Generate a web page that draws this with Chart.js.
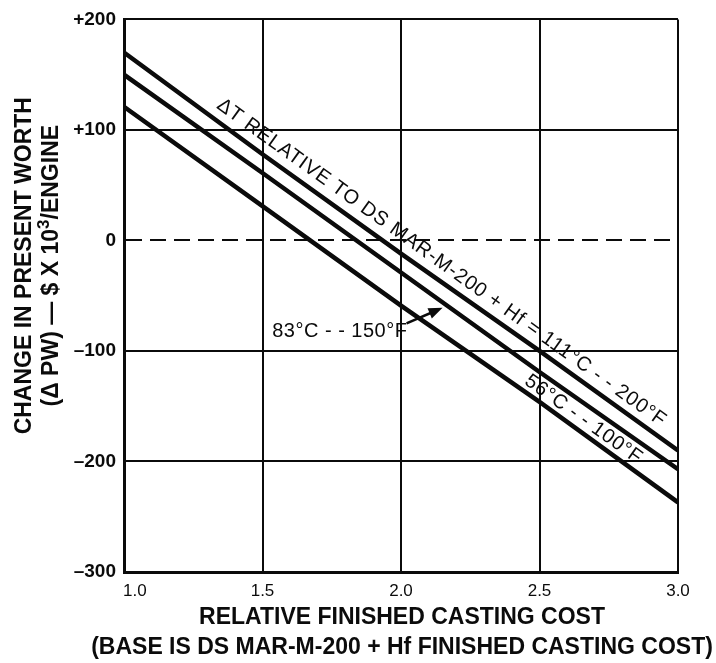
<!DOCTYPE html>
<html>
<head>
<meta charset="utf-8">
<title>Change in present worth vs relative finished casting cost</title>
<script src="https://cdn.jsdelivr.net/npm/chart.js@4/dist/chart.umd.min.js"></script>
<style>
  html, body { margin: 0; padding: 0; background: #fff; }
  canvas { display: block; }
</style>
</head>
<body>
<canvas id="pw" width="716" height="663"></canvas>
<script>
// Relative finished casting cost (x) and change in present worth, $ x 10^3 / engine (y)
const costRatio = [1.0, 1.5, 2.0, 2.5, 3.0];
const pwDelta111C = [170, 78, -12, -100, -190];   // dT = 111 C (200 F)
const pwDelta83C  = [150, 61, -29, -119, -207];   // dT = 83 C (150 F)
const pwDelta56C  = [121, 31, -59, -146, -237];   // dT = 56 C (100 F)

const xTickValues = [1.0, 1.5, 2.0, 2.5, 3.0];
const xTickLabels = ['1.0', '1.5', '2.0', '2.5', '3.0'];
const yTickValues = [-300, -200, -100, 0, 100, 200];
const yTickLabels = ['\u2013300', '\u2013200', '\u2013100', '0', '+100', '+200'];

const yTitleLines = ['CHANGE IN PRESENT WORTH', ['(\u0394 PW) \u2014 $ X 10', '3', '/ENGINE']];
const xTitleLines = ['RELATIVE FINISHED CASTING COST', '(BASE IS DS MAR-M-200 + Hf FINISHED CASTING COST)'];

const labelTop = '\u0394T RELATIVE TO DS MAR-M-200 + Hf = 111\u00B0C - - 200\u00B0F';
const labelMid = '83\u00B0C - - 150\u00B0F';
const labelLow = '56\u00B0C - - 100\u00B0F';

const FAMILY = '"Liberation Sans", Arial, Helvetica, sans-serif';
const INK = '#0b0b0b';

function toPoints(ys) { return costRatio.map((x, i) => ({ x: x, y: ys[i] })); }

function valueAt(series, x) {
  for (let i = 0; i < costRatio.length - 1; i++) {
    if (x <= costRatio[i + 1]) {
      const t = (x - costRatio[i]) / (costRatio[i + 1] - costRatio[i]);
      return series[i] + t * (series[i + 1] - series[i]);
    }
  }
  return series[series.length - 1];
}

// Text laid along a curve, starting at x0 and lifted above it by `lift` px
function textAlong(chart, series, x0, lift, text) {
  const { ctx } = chart;
  const xs = chart.scales.x, ys = chart.scales.y;
  const ax = xs.getPixelForValue(costRatio[0]), ay = ys.getPixelForValue(series[0]);
  const bx = xs.getPixelForValue(costRatio[costRatio.length - 1]), by = ys.getPixelForValue(series[series.length - 1]);
  const ang = Math.atan2(by - ay, bx - ax);
  const px = xs.getPixelForValue(x0), py = ys.getPixelForValue(valueAt(series, x0));
  ctx.save();
  ctx.translate(px, py);
  ctx.rotate(ang);
  ctx.font = '20px ' + FAMILY;
  if ('letterSpacing' in ctx) ctx.letterSpacing = '0.8px';
  ctx.fillStyle = INK;
  ctx.textAlign = 'left';
  ctx.textBaseline = 'alphabetic';
  ctx.fillText(text, 0, -lift);
  ctx.restore();
}

const annotations = {
  id: 'annotations',
  afterDatasetsDraw(chart) {
    const { ctx } = chart;
    const xs = chart.scales.x, ys = chart.scales.y;

    // curve labels
    textAlong(chart, pwDelta111C, 1.31, 10, labelTop);
    textAlong(chart, pwDelta56C, 2.43, 6, labelLow);

    // 83 C label with pointer to its curve
    ctx.save();
    ctx.font = '20px ' + FAMILY;
    if ('letterSpacing' in ctx) ctx.letterSpacing = '0.5px';
    ctx.fillStyle = INK;
    ctx.textAlign = 'left';
    ctx.textBaseline = 'alphabetic';
    ctx.fillText(labelMid, xs.getPixelForValue(1.535), ys.getPixelForValue(-87));
    const tx = xs.getPixelForValue(2.02), ty = ys.getPixelForValue(-75);
    const hx = xs.getPixelForValue(2.15), hy = ys.getPixelForValue(valueAt(pwDelta83C, 2.15) - 5);
    const a = Math.atan2(hy - ty, hx - tx);
    ctx.strokeStyle = INK;
    ctx.lineWidth = 2.5;
    ctx.beginPath();
    ctx.moveTo(tx, ty);
    ctx.lineTo(hx - 8 * Math.cos(a), hy - 8 * Math.sin(a));
    ctx.stroke();
    ctx.beginPath();
    ctx.moveTo(hx, hy);
    ctx.lineTo(hx - 14 * Math.cos(a) + 5.5 * Math.sin(a), hy - 14 * Math.sin(a) - 5.5 * Math.cos(a));
    ctx.lineTo(hx - 14 * Math.cos(a) - 5.5 * Math.sin(a), hy - 14 * Math.sin(a) + 5.5 * Math.cos(a));
    ctx.closePath();
    ctx.fill();
    ctx.restore();
  },
  afterDraw(chart) {
    const { ctx, chartArea } = chart;
    const xs = chart.scales.x;
    ctx.save();
    ctx.fillStyle = INK;

    // x tick labels (first one set flush with the axis)
    ctx.font = '17px ' + FAMILY;
    ctx.textBaseline = 'middle';
    xTickValues.forEach((v, i) => {
      const px = xs.getPixelForValue(v);
      ctx.textAlign = i === 0 ? 'left' : 'center';
      ctx.fillText(xTickLabels[i], i === 0 ? px - 1 : px, chartArea.bottom + 19);
    });

    // x axis titles
    const cx = (chartArea.left + chartArea.right) / 2 + 1;
    ctx.font = 'bold 23px ' + FAMILY;
    ctx.textAlign = 'center';
    ctx.fillText(xTitleLines[0], cx, chartArea.bottom + 46);
    ctx.fillText(xTitleLines[1], cx, chartArea.bottom + 76);

    // y axis titles (rotated)
    const cy = (chartArea.top + chartArea.bottom) / 2 - 30;
    ctx.translate(0, cy);
    ctx.rotate(-Math.PI / 2);
    ctx.textAlign = 'center';
    ctx.font = 'bold 23px ' + FAMILY;
    ctx.fillText(yTitleLines[0], 0, 25);

    const runs = yTitleLines[1];
    const big = 'bold 23px ' + FAMILY, small = 'bold 17px ' + FAMILY;
    ctx.font = big; const w0 = ctx.measureText(runs[0]).width;
    ctx.font = small; const w1 = ctx.measureText(runs[1]).width;
    ctx.font = big; const w2 = ctx.measureText(runs[2]).width;
    let x = -(w0 + w1 + w2) / 2;
    ctx.textAlign = 'left';
    ctx.font = big; ctx.fillText(runs[0], x, 52); x += w0;
    ctx.font = small; ctx.fillText(runs[1], x, 44); x += w1;
    ctx.font = big; ctx.fillText(runs[2], x, 52);
    ctx.restore();
  }
};

const lineStyle = {
  borderColor: INK,
  borderWidth: 4.5,
  pointRadius: 0,
  tension: 0,
  fill: false,
  borderCapStyle: 'butt'
};

new Chart(document.getElementById('pw'), {
  type: 'line',
  data: {
    datasets: [
      Object.assign({ label: '\u0394T = 111\u00B0C (200\u00B0F)', data: toPoints(pwDelta111C) }, lineStyle),
      Object.assign({ label: '\u0394T = 83\u00B0C (150\u00B0F)', data: toPoints(pwDelta83C) }, lineStyle),
      Object.assign({ label: '\u0394T = 56\u00B0C (100\u00B0F)', data: toPoints(pwDelta56C) }, lineStyle)
    ]
  },
  options: {
    responsive: false,
    animation: false,
    devicePixelRatio: 1,
    layout: { padding: { top: 15, right: 38, left: 0, bottom: 0 } },
    plugins: { legend: { display: false }, tooltip: { enabled: false }, title: { display: false } },
    scales: {
      x: {
        type: 'linear',
        min: 1, max: 3,
        afterBuildTicks: (s) => { s.ticks = xTickValues.map(v => ({ value: v })); },
        afterFit: (s) => { s.height = 91; },
        ticks: { display: false },
        grid: { color: INK, lineWidth: 2, drawTicks: false },
        border: { color: INK, width: 3 }
      },
      y: {
        type: 'linear',
        min: -300, max: 200,
        afterBuildTicks: (s) => { s.ticks = yTickValues.map(v => ({ value: v })); },
        afterFit: (s) => { s.width = 124; },
        ticks: {
          callback: (v) => yTickLabels[yTickValues.indexOf(v)],
          color: INK,
          padding: 8,
          font: { family: FAMILY, size: 19, weight: 'bold' }
        },
        grid: { color: INK, lineWidth: 2, drawTicks: false },
        border: {
          color: INK, width: 3,
          dash: (c) => (c.tick && c.tick.value === 0) ? [16, 8] : []
        }
      }
    }
  },
  plugins: [annotations]
});
</script>
</body>
</html>
